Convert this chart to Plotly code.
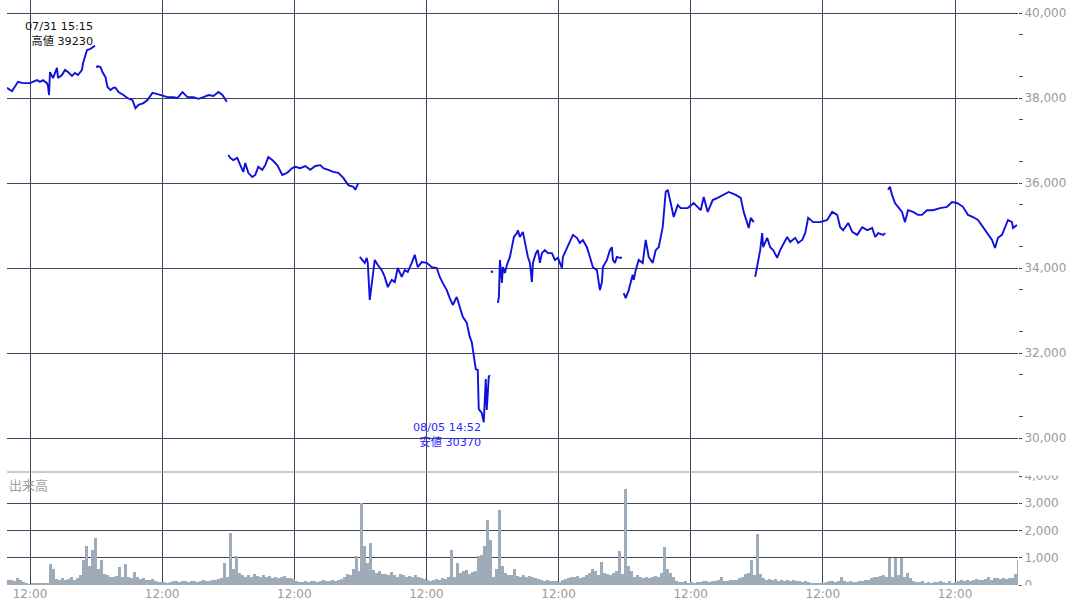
import plotly.graph_objects as go

FONT = "DejaVu Sans, Noto Sans CJK JP, sans-serif"
GRID = "#40455a"
LABEL = "#9a9a9a"

# ---------------- data ----------------
session_dates = ["07/31", "08/01", "08/02", "08/05", "08/06", "08/07", "08/08", "08/09"]

p0_time = ["10:51", "11:06", "11:24", "11:39", "12:00", "12:21", "12:30", "12:39", "12:51", "12:54",
           "12:57", "13:00", "13:09", "13:15", "13:21", "13:24", "13:36", "13:45", "13:54", "14:06",
           "14:15", "14:24", "14:36", "14:39", "14:45", "14:51", "15:00", "15:09", "15:15"]
p0_val = [38240, 38160, 38380, 38350, 38350, 38420, 38380, 38420, 38350, 38280,
          38070, 38610, 38470, 38610, 38710, 38470, 38540, 38660, 38610, 38520,
          38590, 38540, 38660, 38820, 39010, 39130, 39150, 39200, 39230]

p1_time = ["08:43", "08:46", "08:55", "09:01", "09:10", "09:16", "09:25", "09:34", "09:40", "09:49",
           "10:04", "10:16", "10:31", "10:40", "10:49", "11:04", "11:16", "11:31", "11:46", "11:55",
           "12:16", "12:34", "12:46", "13:01", "13:16", "13:34", "13:49", "14:04", "14:19", "14:34",
           "14:49", "15:01", "15:10", "15:14"]
p1_val = [38710, 38750, 38730, 38610, 38490, 38260, 38190, 38240, 38240, 38140,
          38070, 38000, 37950, 37760, 37840, 37880, 37950, 38120, 38090, 38070,
          38020, 38020, 38000, 38140, 38020, 38020, 37980, 38020, 38070, 38050,
          38140, 38070, 37950, 37910]

p2_time = ["08:42", "08:48", "08:57", "09:09", "09:18", "09:27", "09:33", "09:42", "09:54", "10:03",
           "10:12", "10:24", "10:33", "10:42", "10:54", "11:09", "11:24", "11:39", "11:54", "12:03",
           "12:18", "12:33", "12:48", "13:03", "13:18", "13:27", "13:42", "13:57", "14:12", "14:27",
           "14:42", "14:57", "15:03", "15:12"]
p2_val = [36660, 36590, 36540, 36590, 36420, 36260, 36470, 36240, 36140, 36190,
          36380, 36310, 36420, 36610, 36540, 36420, 36190, 36240, 36350, 36380,
          36350, 36400, 36310, 36400, 36420, 36350, 36310, 36260, 36240, 36120,
          35950, 35910, 35840, 36000]

p3_time = ["08:40", "08:49", "08:55", "09:01", "09:04", "09:10", "09:16", "09:19", "09:25", "09:34",
           "09:46", "09:55", "10:04", "10:16", "10:25", "10:34", "10:46", "10:55", "11:04", "11:16",
           "11:25", "11:34", "11:46", "12:01", "12:16", "12:31", "12:40", "12:49", "13:01", "13:10",
           "13:19", "13:31", "13:40", "13:49", "14:01", "14:10", "14:16", "14:22", "14:28", "14:34",
           "14:37", "14:46", "14:52", "14:58", "15:01", "15:07", "15:10"]
p3_val = [34260, 34190, 34120, 34240, 34120, 33250, 33650, 33790, 34190, 34070,
          33950, 33790, 33550, 33720, 33670, 34000, 33790, 33950, 33910, 34120,
          34310, 34020, 34140, 34120, 34020, 34000, 33790, 33650, 33480, 33290,
          33130, 33320, 33080, 32850, 32710, 32380, 32260, 31950, 31620, 31600,
          30680, 30590, 30370, 31390, 30660, 31440, 31480]

p4_pre_time = ["08:40"]          # isolated first print of 08/06
p4_pre_val = [33910]
p4_time = ["08:58", "09:01", "09:04", "09:10", "09:13", "09:19", "09:25", "09:34", "09:40", "09:46",
           "09:55", "09:58", "10:04", "10:13", "10:19", "10:28", "10:34", "10:40", "10:43", "10:52",
           "10:58", "11:04", "11:10", "11:19", "11:28", "11:40", "11:49", "11:58", "12:10", "12:13",
           "12:25", "12:34", "12:43", "12:55", "13:04", "13:13", "13:25", "13:34", "13:43", "13:55",
           "13:58", "14:04", "14:10", "14:13", "14:25", "14:34", "14:40", "14:43", "14:49", "14:55",
           "15:04", "15:10"]
p4_val = [33180, 33320, 34190, 33650, 34020, 33880, 34070, 34260, 34490, 34730,
          34820, 34890, 34730, 34850, 34610, 34260, 34120, 33670, 34120, 34350,
          34420, 34120, 34350, 34420, 34350, 34350, 34190, 34240, 34000, 34260,
          34470, 34610, 34780, 34710, 34590, 34660, 34490, 34260, 34020, 33950,
          33790, 33480, 33670, 34020, 34190, 34420, 34490, 34190, 34120, 34260,
          34240, 34240]

p5_time = ["08:39", "08:45", "08:54", "09:06", "09:09", "09:15", "09:24", "09:36", "09:45", "09:54",
           "10:06", "10:15", "10:24", "10:36", "10:45", "10:51", "11:00", "11:09", "11:21", "11:30",
           "11:51", "12:09", "12:30", "12:39", "12:51", "13:06", "13:21", "13:39", "13:54", "14:15",
           "14:30", "14:39", "14:51", "14:54", "15:00", "15:09"]
p5_val = [33410, 33290, 33480, 33840, 33720, 33950, 34190, 34120, 34660, 34260,
          34120, 34420, 34490, 34960, 35790, 35840, 35530, 35200, 35480, 35410,
          35410, 35530, 35360, 35670, 35320, 35600, 35650, 35720, 35790, 35720,
          35650, 35320, 35010, 34940, 35180, 35080]

p6_time = ["08:37", "08:43", "08:52", "08:58", "09:01", "09:13", "09:22", "09:31", "09:43", "09:52",
           "10:01", "10:13", "10:22", "10:37", "10:46", "10:58", "11:07", "11:16", "11:31", "11:52",
           "12:13", "12:28", "12:43", "12:52", "13:01", "13:16", "13:28", "13:43", "13:58", "14:13",
           "14:28", "14:37", "14:46", "15:01", "15:07"]
p6_val = [33790, 34070, 34420, 34820, 34490, 34710, 34490, 34420, 34240, 34420,
          34540, 34730, 34610, 34710, 34590, 34660, 34820, 35180, 35080, 35080,
          35130, 35320, 35250, 34960, 34890, 35060, 34850, 34780, 34960, 34890,
          34940, 34730, 34820, 34780, 34820]

p7_time = ["08:39", "08:45", "08:51", "09:00", "09:09", "09:21", "09:30", "09:39", "09:54", "10:09",
           "10:21", "10:36", "10:54", "11:15", "11:36", "11:51", "12:06", "12:24", "12:39", "12:54",
           "13:09", "13:24", "13:36", "13:51", "14:00", "14:09", "14:21", "14:30", "14:39", "14:51",
           "14:54", "15:06"]
p7_val = [35840, 35910, 35720, 35530, 35440, 35320, 35080, 35360, 35320, 35250,
          35250, 35360, 35360, 35410, 35440, 35550, 35530, 35440, 35250, 35200,
          35130, 34960, 34850, 34660, 34470, 34710, 34780, 34960, 35130, 35080,
          34940, 35010]

price_times = [p0_time, p1_time, p2_time, p3_time, p4_time, p5_time, p6_time, p7_time]
price_vals = [p0_val, p1_val, p2_val, p3_val, p4_val, p5_val, p6_val, p7_val]

# volume (出来高), 9-minute buckets starting at vol_start of each session
vol_start = ["10:51", "08:44", "08:43", "08:42", "08:41", "08:40", "08:39", "08:38"]
vol_bucket_min = 9
vol0 = [200, 180, 150, 250, 200, 100, 40, 30, 60, 50, 70, 40, 90, 60, 780, 600, 220, 180, 250, 200,
        230, 300, 190, 260, 370, 920, 1420, 700, 1300, 1720]
vol1 = [600, 920, 400, 350, 300, 280, 330, 650, 300, 760, 280, 250, 490, 300, 230, 260, 200, 180, 220, 160,
        120, 100, 110, 80, 120, 150, 130, 110, 160, 140, 100, 130, 160, 120, 150, 170, 130, 160, 200, 180,
        230, 260, 800, 300]
vol2 = [1900, 600, 1070, 430, 380, 300, 350, 280, 400, 330, 300, 380, 280, 330, 260, 300, 250, 280, 320, 260,
        250, 220, 150, 120, 100, 140, 120, 160, 130, 110, 150, 170, 130, 140, 180, 160, 200, 220, 300, 420,
        380, 600, 1050, 500]
vol3 = [3000, 1440, 800, 1540, 550, 450, 500, 400, 420, 350, 480, 380, 300, 420, 350, 280, 330, 300, 380, 280,
        260, 230, 200, 150, 180, 220, 200, 250, 230, 280, 1270, 300, 800, 450, 500, 550, 400, 480, 520, 1050,
        1100, 1420, 2400, 1660]
vol4 = [300, 600, 2770, 700, 450, 380, 350, 600, 330, 300, 380, 280, 320, 300, 260, 230, 200, 150, 180, 140,
        160, 130, 120, 200, 220, 250, 300, 280, 320, 260, 300, 350, 430, 600, 500, 380, 860, 450, 400, 380,
        450, 500, 1230, 400]
vol5 = [3530, 700, 500, 300, 350, 280, 250, 300, 260, 280, 330, 300, 450, 1390, 600, 450, 300, 150, 120, 100,
        130, 90, 110, 80, 120, 100, 150, 130, 110, 160, 140, 180, 310, 150, 130, 170, 200, 180, 250, 300,
        400, 430, 900, 350]
vol6 = [1880, 400, 250, 200, 230, 180, 220, 160, 200, 150, 180, 140, 170, 130, 160, 120, 140, 110, 90, 60,
        80, 50, 70, 100, 130, 160, 120, 150, 280, 140, 110, 130, 100, 120, 150, 130, 170, 200, 250, 300,
        280, 330, 370, 280]
vol7 = [1000, 300, 1000, 350, 1000, 300, 430, 250, 160, 120, 100, 130, 90, 110, 80, 120, 100, 140, 110, 90,
        130, 70, 100, 150, 180, 130, 200, 160, 190, 220, 170, 200, 230, 310, 200, 240, 260, 220, 250, 230,
        270, 260, 400, 900]
vols = [vol0, vol1, vol2, vol3, vol4, vol5, vol6, vol7]

price_ticks = [30000, 32000, 34000, 36000, 38000, 40000]
vol_ticks = [0, 1000, 2000, 3000, 4000]
time_tick_label = "12:00"

# ---------------- layout parameters ----------------
SESSION_SPAN = 396.4          # spacing of sessions on the compressed time axis (minutes)
X_RANGE = [126, 3158.8]


def to_min(t):
    h, m = map(int, t.split(":"))
    return h * 60 + m - (8 * 60 + 45)


px, py = [], []
for k, (ts, vs) in enumerate(zip(price_times, price_vals)):
    px += [k * SESSION_SPAN + to_min(t) for t in ts] + [None]
    py += list(vs) + [None]

vx, vy = [], []
for k, (st, vs) in enumerate(zip(vol_start, vols)):
    s = to_min(st)
    vx += [k * SESSION_SPAN + s + vol_bucket_min * (i + 0.5) for i in range(len(vs))]
    vy += vs

# high / low
hi_k = max(range(8), key=lambda k: max(price_vals[k]))
hi_i = price_vals[hi_k].index(max(price_vals[hi_k]))
lo_k = min(range(8), key=lambda k: min(price_vals[k]))
lo_i = price_vals[lo_k].index(min(price_vals[lo_k]))
hi_x = hi_k * SESSION_SPAN + to_min(price_times[hi_k][hi_i])
lo_x = lo_k * SESSION_SPAN + to_min(price_times[lo_k][lo_i])

fig = go.Figure()
fig.add_trace(go.Scatter(x=px, y=py, mode="lines", line=dict(color="#1010dc", width=1.9),
                         connectgaps=False, yaxis="y", hoverinfo="skip"))
fig.add_trace(go.Scatter(x=[4 * SESSION_SPAN + to_min(t) for t in p4_pre_time], y=p4_pre_val,
                         mode="markers", marker=dict(color="#1010dc", size=2.5), yaxis="y",
                         hoverinfo="skip"))
fig.add_trace(go.Bar(x=vx, y=vy, width=vol_bucket_min, marker=dict(color="#9eacb9", line=dict(width=0)),
                     yaxis="y2", hoverinfo="skip"))

H_PLOT = 585.0
split = (H_PLOT - 476) / H_PLOT

tickvals_x = [k * SESSION_SPAN + to_min(time_tick_label) for k in range(8)]

fig.update_layout(
    width=1086, height=612,
    margin=dict(l=7, r=68, t=0, b=27, autoexpand=False),
    paper_bgcolor="white", plot_bgcolor="white",
    showlegend=False, hovermode=False, bargap=0,
    font=dict(family=FONT, size=12, color=LABEL),
    xaxis=dict(range=X_RANGE, domain=[0, 1], anchor="y2", tickmode="array", tickvals=tickvals_x,
               ticktext=[time_tick_label] * 8, showgrid=True, gridcolor=GRID, gridwidth=1,
               zeroline=False, showline=False, ticks="", tickfont=dict(size=12, color=LABEL),
               fixedrange=True),
    yaxis=dict(domain=[split, 1], range=[29106, 40306], side="right", anchor="x",
               tickmode="array", tickvals=price_ticks, ticktext=[f"{v:,}" for v in price_ticks],
               showgrid=True, gridcolor=GRID, gridwidth=1, zeroline=False, showline=False,
               ticks="outside", ticklen=3, tickcolor=GRID, tickfont=dict(size=12, color=LABEL),
               minor=dict(tickmode="array", tickvals=[v + 500 for v in range(30000, 40000, 1000)],
                          ticks="outside", ticklen=4, tickcolor="#555", showgrid=False),
               fixedrange=True),
    yaxis3=dict(overlaying="y", side="right", anchor="x", range=[29106, 40306], tickmode="array",
                tickvals=[v for v in range(31000, 40000, 2000)], showticklabels=False,
                ticks="outside", ticklen=7, tickcolor="#555", showgrid=False, zeroline=False,
                showline=False, fixedrange=True),
    yaxis2=dict(domain=[0, split], range=[0, 4000], side="right", anchor="x",
                tickmode="array", tickvals=vol_ticks, ticktext=[f"{v:,}" for v in vol_ticks],
                showgrid=True, gridcolor=GRID, gridwidth=1, zeroline=False, showline=False,
                ticks="outside", ticklen=3, tickcolor=GRID, tickfont=dict(size=12, color=LABEL),
                fixedrange=True),
)

shapes = []
# white breaks in the horizontal grid between sessions
for k in range(7):
    xb = k * SESSION_SPAN + 392.7
    shapes.append(dict(type="line", xref="x", yref="paper", x0=xb, x1=xb, y0=split + 0.002, y1=1,
                       line=dict(color="white", width=2), layer="between"))
# separator between price panel and volume panel
sep_y = (H_PLOT - 472) / H_PLOT
shapes.append(dict(type="line", xref="paper", yref="paper", x0=0, x1=1.001, y0=sep_y, y1=sep_y,
                   line=dict(color="#999999", width=1), layer="above"))
# clip half of the edge labels of the volume axis, like the original panel clipping
shapes.append(dict(type="rect", xref="paper", yref="paper", x0=1.003, x1=1.07,
                   y0=(H_PLOT - 475.5) / H_PLOT, y1=(H_PLOT - 462) / H_PLOT,
                   fillcolor="white", line=dict(width=0), layer="above"))
shapes.append(dict(type="rect", xref="paper", yref="paper", x0=1.003, x1=1.07,
                   y0=(H_PLOT - 600) / H_PLOT, y1=(H_PLOT - 585.5) / H_PLOT,
                   fillcolor="white", line=dict(width=0), layer="above"))
fig.update_layout(shapes=shapes)

fig.add_annotation(x=hi_x, y=max(price_vals[hi_k]), xref="x", yref="y",
                   text=f"{session_dates[hi_k]} {price_times[hi_k][hi_i]}<br>高値 {max(price_vals[hi_k])}",
                   showarrow=False, xanchor="right", yanchor="bottom", align="right", xshift=0, yshift=-4,
                   font=dict(family=FONT, size=11.2, color="#111111"))
fig.add_annotation(x=lo_x, y=min(price_vals[lo_k]), xref="x", yref="y",
                   text=f"{session_dates[lo_k]} {price_times[lo_k][lo_i]}<br>安値 {min(price_vals[lo_k])}",
                   showarrow=False, xanchor="right", yanchor="top", align="right", xshift=-1, yshift=3,
                   font=dict(family=FONT, size=11.2, color="#2a2aff"))
fig.add_annotation(x=0, y=(H_PLOT - 486) / H_PLOT, xref="paper", yref="paper", text="出来高",
                   showarrow=False, xanchor="left", yanchor="middle", xshift=0,
                   font=dict(family=FONT, size=13, color="#a0a0a0"))

fig.write_html("out.html", config={"displayModeBar": False},
               post_script="document.body.style.margin='0px';document.body.style.overflow='hidden';")
